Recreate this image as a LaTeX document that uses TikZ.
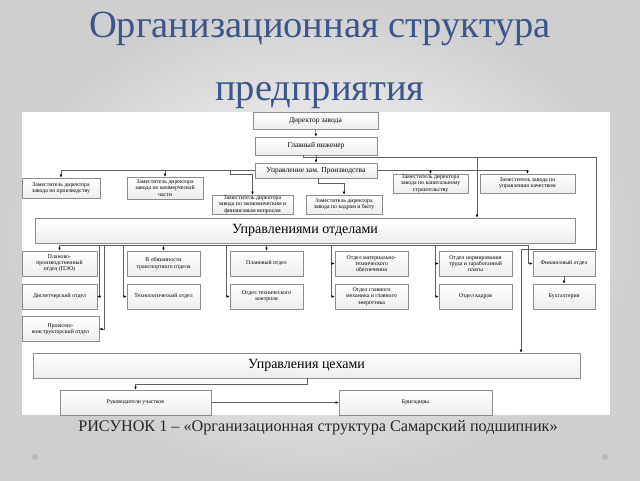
\documentclass[tikz,border=0pt]{standalone}
\usepackage{fontspec}
\setmainfont{Liberation Serif}
\usetikzlibrary{arrows.meta,shadows}
\definecolor{titleblue}{RGB}{58,86,138}
\definecolor{linegray}{RGB}{95,95,95}
\definecolor{boxline}{RGB}{140,140,140}
\tikzset{
  bx/.style={draw=boxline, line width=0.6pt, top color=white, bottom color=gray!14,
    align=center, inner sep=0.5pt, font=\fontsize{5.8}{6.2}\selectfont,
    drop shadow={opacity=0.2, shadow xshift=0.7pt, shadow yshift=-0.7pt}},
  topbx/.style={bx, font=\fontsize{7.5}{8}\selectfont},
  bigbx/.style={bx, font=\fontsize{14}{16}\selectfont},
  ln/.style={draw=linegray, line width=0.55pt},
  arr/.style={ln, -{Latex[length=3pt,width=2.6pt,color=black]}},
}
\begin{document}
\begin{tikzpicture}[x=1pt,y=-1pt]
\useasboundingbox (0,0) rectangle (640,480);
\shade[inner color=white, outer color=gray!38] (0,0) rectangle (640,480);
% title
\node[anchor=base, text=titleblue, font=\fontsize{38.5}{42}\selectfont, inner sep=0] (t1) at (320,37) {Организационная структура};
\node[anchor=base, text=titleblue, font=\fontsize{38.5}{42}\selectfont, inner sep=0] (t2) at (320,100) {предприятия};
% panel
\fill[white] (22,112) rectangle (610,415);
% top boxes
\node[topbx, minimum width=125pt, minimum height=17pt] (dir) at (315.5,120.5) {Директор завода};
\node[topbx, minimum width=122pt, minimum height=18pt] (gi) at (316,146) {Главный инженер};
\node[topbx, minimum width=122pt, minimum height=15pt] (upr) at (316,170.5) {Управление зам. Производства};
% deputies
\node[bx, minimum width=78pt, minimum height=20pt] (z1) at (61,188) {Заместитель директора\\завода по производству};
\node[bx, minimum width=76pt, minimum height=22pt] (z2) at (165,188) {Заместитель директора\\завода по коммерческой\\части};
\node[bx, minimum width=81pt, minimum height=19pt] (z3) at (252.5,204.5) {Заместитель директора\\завода по экономическим и\\финансовым вопросам};
\node[bx, minimum width=76pt, minimum height=19pt] (z4) at (344,204.5) {Заместитель директора\\завода по кадрам и быту};
\node[bx, minimum width=75pt, minimum height=19pt] (z5) at (430.5,183.5) {Заместитель директора\\завода по капитальному\\строительству};
\node[bx, minimum width=95pt, minimum height=19pt] (z6) at (527.5,183.5) {Заместитель завода по\\управлению качеством};
% management of departments
\node[bigbx, minimum width=540pt, minimum height=25pt] (uo) at (305,230.5) {Управлениями отделами};
% departments row 1
\node[bx, minimum width=75pt, minimum height=25pt] (p1) at (59.5,263.5) {Планово-\\производственный\\отдел (ПЭО)};
\node[bx, minimum width=73pt, minimum height=25pt] (p2) at (163.5,263.5) {В обязанности\\транспортного отдела};
\node[bx, minimum width=73pt, minimum height=25pt] (p3) at (266.5,263.5) {Плановый отдел};
\node[bx, minimum width=73pt, minimum height=25pt] (p4) at (371.5,263.5) {Отдел материально-\\технического\\обеспечения};
\node[bx, minimum width=73pt, minimum height=25pt] (p5) at (475.5,263.5) {Отдел нормирования\\труда и заработанной\\платы};
\node[bx, minimum width=62pt, minimum height=25pt] (p6) at (564,263.5) {Финансовый отдел};
% row 2
\node[bx, minimum width=75pt, minimum height=25pt] (q1) at (59.5,296.5) {Диспетчерский отдел};
\node[bx, minimum width=73pt, minimum height=25pt] (q2) at (163.5,296.5) {Технологический отдел};
\node[bx, minimum width=73pt, minimum height=25pt] (q3) at (266.5,296.5) {Отдел технического\\контроля};
\node[bx, minimum width=73pt, minimum height=25pt] (q4) at (371.5,296.5) {Отдел главного\\механика и главного\\энергетика};
\node[bx, minimum width=73pt, minimum height=25pt] (q5) at (475.5,296.5) {Отдел кадров};
\node[bx, minimum width=62pt, minimum height=25pt] (q6) at (564,296.5) {Бухгалтерия};
% row 3
\node[bx, minimum width=77pt, minimum height=25pt] (r1) at (60.5,329) {Проектно-\\конструкторский отдел};
% shops
\node[bigbx, minimum width=547pt, minimum height=25pt] (uc) at (306.5,365.5) {Управления цехами};
\node[bx, minimum width=151pt, minimum height=25pt] (ru) at (135.5,402.5) {Руководители участков};
\node[bx, minimum width=153pt, minimum height=25pt] (br) at (415.5,402.5) {Бригадиры};
% coordinates
\coordinate (g0) at (303,155);
\coordinate (g1) at (303,157);
\coordinate (g2) at (596,157);
\coordinate (g3) at (596,249);
\coordinate (g4) at (521,249);
\coordinate (g5) at (477,157);
% connectors: top
\draw[arr] (dir.south) -- (gi.north);
\draw[arr] (gi.south) -- (upr.north);
\draw[ln] (g0) -- (g1) -- (g2) -- (g3) -- (g4);
\draw[arr] (g4) -- (g4 |- uc.north);
\draw[arr] (g5) -- (g5 |- uo.north);
% from upr, left side
\coordinate (ul) at (61,170.5);
\draw[ln] (upr.west) -- (ul);
\draw[arr] (ul) -- (z1.north);
\draw[arr] (165,170.5) -- (z2.north);
\draw[arr] (230,170.5) -- (230,174) -- (252.5,174) -- (z3.north);
% from upr, bottom
\draw[arr] (318,178) -- (318,183) -- (344,183) -- (z4.north);
% from upr, right side
\coordinate (ur) at (527.5,170.5);
\draw[ln] (upr.east) -- (ur);
\draw[arr] (ur) -- (z6.north);
\draw[arr] (430.5,170.5) -- (z5.north);
% bus under uo
\coordinate (b0) at (59.5,245);
\coordinate (b1) at (528,245);
\draw[ln] (b0) -- (b1);
\draw[arr] (b0) -- (p1.north);
\draw[arr] (163.5,245) -- (p2.north);
\draw[arr] (266.5,245) -- (p3.north);
\draw[arr] (99.5,245) -- (99.5,296.5) -- (q1.east);
\draw[arr] (104,245) -- (104,329) -- (r1.east);
\draw[arr] (123,245) -- (123,296.5) -- (q2.west);
\draw[arr] (226,245) -- (226,296.5) -- (q3.west);
\draw[ln] (331,245) -- (331,296.5);
\draw[arr] (331,263.5) -- (p4.west);
\draw[arr] (331,296.5) -- (q4.west);
\draw[ln] (435,245) -- (435,296.5);
\draw[arr] (435,263.5) -- (p5.west);
\draw[arr] (435,296.5) -- (q5.west);
\draw[arr] (b1) -- (528,263.5) -- (p6.west);
\draw[arr] (p6.south) -- (q6.north);
% shops
\draw[arr] (307,378) -- (307,384) -- (135.5,384) -- (ru.north);
\draw[arr] (ru.east) -- (br.west);
% caption
\node[anchor=base, font=\fontsize{16.2}{19}\selectfont, text=black!85, inner sep=0] (cap) at (318,431) {РИСУНОК 1 – «Организационная структура Самарский подшипник»};
% dots
\fill[gray!55] (35,457) circle (3);
\fill[gray!55] (605,457) circle (3);
\end{tikzpicture}
\end{document}
